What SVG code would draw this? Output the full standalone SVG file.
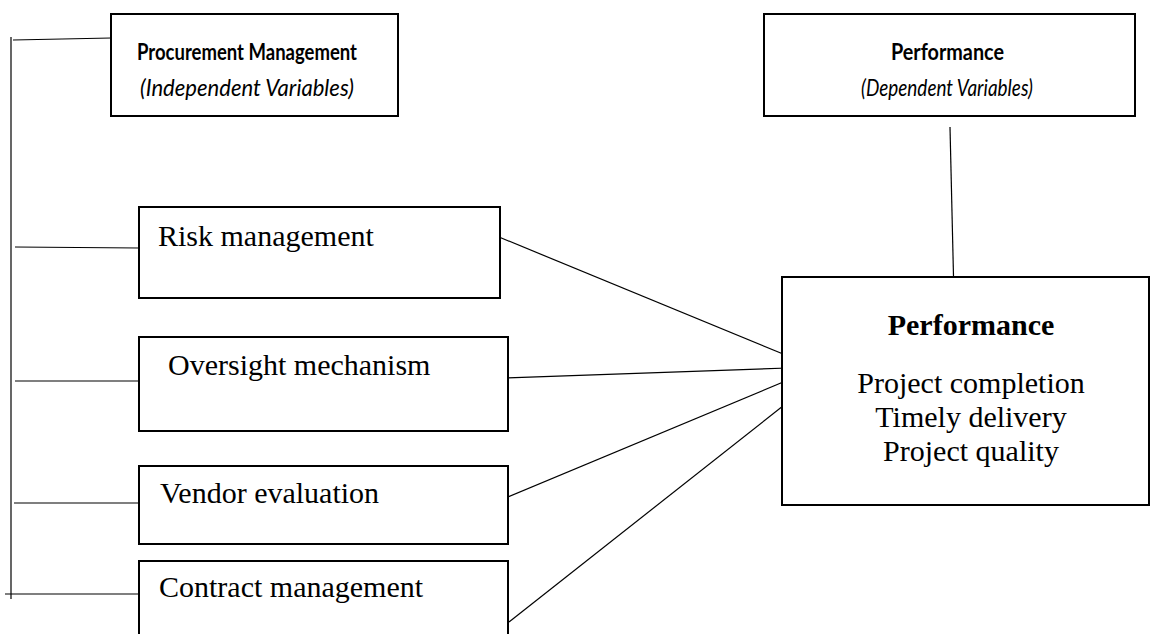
<svg xmlns="http://www.w3.org/2000/svg" width="1152" height="634" viewBox="0 0 1152 634">
<style>
.box{fill:#fff;stroke:#000;stroke-width:2}
.ln{stroke:#000;stroke-width:1.2;fill:none}
.cal{font-family:Lato,"Open Sans","Liberation Sans",sans-serif;font-size:23px;fill:#000}
.b{font-weight:bold}
.i{font-style:italic}
.tnr{font-family:"Liberation Serif","Times New Roman",serif;font-size:30px;fill:#000}
</style>
<rect width="1152" height="634" fill="#fff"/>
<g id="connectors">
<line class="ln" x1="11" y1="37" x2="11" y2="599"/>
<line class="ln" x1="13" y1="40" x2="111" y2="38"/>
<line class="ln" x1="15" y1="247" x2="139" y2="248"/>
<line class="ln" x1="15" y1="381" x2="139" y2="381"/>
<line class="ln" x1="14" y1="503" x2="139" y2="503"/>
<line class="ln" x1="5" y1="594" x2="148" y2="594"/>
<line class="ln" x1="499" y1="237" x2="788" y2="356"/>
<line class="ln" x1="506" y1="378" x2="788" y2="368"/>
<line class="ln" x1="508" y1="497" x2="788" y2="380"/>
<line class="ln" x1="509" y1="622" x2="788" y2="402"/>
<line class="ln" x1="950" y1="127" x2="954" y2="298"/>
</g>
<g id="procurement">
<rect class="box" x="111" y="14" width="287" height="102"/>
<text class="cal b" x="137" y="60" textLength="220" lengthAdjust="spacingAndGlyphs">Procurement Management</text>
<text class="cal i" x="140" y="96" textLength="214" lengthAdjust="spacingAndGlyphs">(Independent Variables)</text>
</g>
<g id="performance-dv">
<rect class="box" x="764" y="14" width="371" height="102"/>
<text class="cal b" x="891" y="60" textLength="113" lengthAdjust="spacingAndGlyphs">Performance</text>
<text class="cal i" x="861" y="96" textLength="172" lengthAdjust="spacingAndGlyphs">(Dependent Variables)</text>
</g>
<g id="risk">
<rect class="box" x="139" y="207" width="361" height="91"/>
<text class="tnr" x="158" y="246">Risk management</text>
</g>
<g id="oversight">
<rect class="box" x="139" y="337" width="369" height="94"/>
<text class="tnr" x="168" y="375">Oversight mechanism</text>
</g>
<g id="vendor">
<rect class="box" x="139" y="466" width="369" height="78"/>
<text class="tnr" x="160" y="503">Vendor evaluation</text>
</g>
<g id="contract">
<rect class="box" x="139" y="561" width="369" height="90"/>
<text class="tnr" x="159" y="597">Contract management</text>
</g>
<g id="performance">
<rect class="box" x="782" y="277" width="367" height="228"/>
<text class="tnr b" x="971" y="335" text-anchor="middle">Performance</text>
<text class="tnr" x="971" y="393" text-anchor="middle">Project completion</text>
<text class="tnr" x="971" y="427" text-anchor="middle">Timely delivery</text>
<text class="tnr" x="971" y="461" text-anchor="middle">Project quality</text>
</g>
</svg>
